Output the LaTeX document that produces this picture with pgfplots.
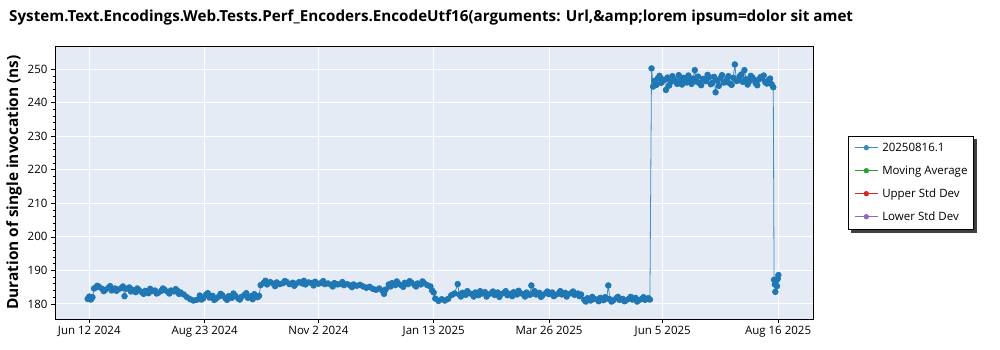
\documentclass[border=0pt]{standalone}
\usepackage{pgfplots}
\pgfplotsset{compat=1.18}
\usepackage{fontspec}
\setmainfont{Open Sans}
\usetikzlibrary{backgrounds}
\definecolor{mplblue}{RGB}{31,119,180}
\definecolor{mplgreen}{RGB}{44,160,44}
\definecolor{mplred}{RGB}{214,39,40}
\definecolor{mplpurple}{RGB}{148,103,189}
\definecolor{bgcol}{RGB}{229,235,245}
\begin{document}
\begin{tikzpicture}
\useasboundingbox (0,0) rectangle (1000pt,350pt);
\begin{axis}[
  at={(55pt,31pt)}, anchor=south west,
  width=758.3pt, height=273pt, scale only axis,
  xmin=-21.4, xmax=452, ymin=175.5, ymax=256.9,
  axis background/.style={fill=bgcol},
  axis line style={black, line width=0.8pt},
  grid=major, major grid style={white, line width=1pt},
  xtick={0,72,143,215,287,358,430},
  xticklabels={Jun 12 2024,Aug 23 2024,Nov 2 2024,Jan 13 2025,Mar 26 2025,Jun 5 2025,Aug 16 2025},
  ytick={180,190,...,250},
  minor y tick num=4,
  tick align=outside,
  major tick length=4pt, minor tick length=2.5pt,
  tick style={black, line width=0.6pt},
  xtick pos=bottom, ytick pos=left,
  /pgf/number format/assume math mode=true,
  tick label style={font=\fontsize{11.5}{13}\selectfont},
  ylabel={\textbf{Duration of single invocation (ns)}},
  ylabel style={font=\fontsize{15.4}{17}\selectfont, at={(axis description cs:-0.054,0.5)}, anchor=center},
  legend style={name=leg, at={(1.0458,0.670)}, anchor=north west, draw=black, line width=0.8pt, fill=white,
    font=\fontsize{11.5}{13}\selectfont, inner xsep=6pt, inner ysep=6pt, row sep=11pt,
    nodes={inner sep=0pt, text height=9pt, text depth=3pt, anchor=base west},
    column sep=4pt},
  legend cell align=left,
  legend image code/.code={\path[draw=none,fill=none] (0pt,0pt) -- (23pt,0pt);
    \draw[line width=0.8pt, mark=none] (0pt,3.8pt) -- (23pt,3.8pt);
    \fill[draw=none] (11.5pt,3.8pt) circle (2.7pt);},
]
\addplot[color=mplblue!85, line width=0.8pt, mark=*, mark size=2.8pt, mark options={fill=mplblue, draw=mplblue, solid}] table[row sep=\\] {
x y\\
-1 181.5\\ 0 182.2\\ 1 181.3\\ 2 182.0\\ 3 184.6\\
4 184.9\\ 5 185.4\\ 6 185.1\\ 8 184.5\\ 9 183.8\\ 10 184.2\\ 12 184.8\\ 13 185.3\\ 14 184.0\\ 16 184.6\\ 17 183.9\\ 18 184.3\\ 20 184.7\\ 21 185.2\\ 22 182.3\\ 23 184.5\\ 25 184.9\\ 26 183.7\\ 27 184.2\\
29 183.5\\ 30 184.6\\ 31 184.1\\ 33 183.4\\ 34 183.0\\ 35 183.9\\ 37 183.2\\ 38 184.5\\ 39 183.8\\ 41 184.0\\ 42 183.1\\ 43 183.3\\ 45 183.9\\ 46 184.6\\ 47 184.2\\ 49 183.6\\ 50 183.1\\ 51 184.0\\ 53 183.7\\ 54 184.4\\ 55 183.9\\ 56 183.0\\ 57 183.4\\
59 182.8\\ 61 182.0\\ 63 181.4\\ 65 181.0\\ 67 181.2\\
69 182.5\\ 70 181.3\\ 71 181.6\\ 73 182.8\\ 74 183.2\\ 75 181.9\\ 77 182.4\\ 78 181.2\\ 79 181.5\\ 81 182.2\\ 82 183.0\\ 83 182.6\\ 85 181.7\\ 86 181.2\\ 87 182.3\\ 89 181.8\\ 90 183.1\\ 91 182.5\\ 93 181.6\\ 94 181.3\\ 95 182.1\\ 97 182.7\\ 98 183.2\\ 99 181.8\\ 101 182.3\\ 102 181.4\\ 103 182.9\\ 105 182.0\\ 106 182.4\\
107 185.6\\ 109 186.3\\ 110 186.9\\ 111 185.8\\ 113 186.5\\ 115 186.0\\ 116 185.3\\ 117 186.4\\ 119 185.9\\ 121 186.2\\ 122 186.8\\ 123 186.6\\ 125 185.9\\ 127 186.3\\ 128 185.4\\ 129 186.0\\ 131 186.5\\ 133 186.1\\ 134 186.9\\ 135 185.8\\ 137 186.4\\ 139 186.2\\ 140 185.5\\ 141 186.6\\ 143 186.0\\ 145 186.3\\ 146 186.8\\ 147 185.9\\ 149 186.1\\ 151 185.7\\ 152 185.2\\ 153 186.2\\ 155 185.8\\ 157 186.0\\ 158 186.5\\ 159 185.6\\ 161 185.9\\ 163 185.5\\ 164 185.0\\ 165 185.8\\ 167 185.4\\ 169 185.7\\ 171 185.2\\
173 184.8\\ 175 185.1\\ 177 184.5\\ 179 184.2\\ 181 184.6\\ 183 183.9\\ 184 183.0\\ 185 184.3\\
187 185.8\\ 188 185.2\\ 189 186.2\\ 191 185.6\\ 192 186.7\\ 193 186.0\\ 195 185.5\\ 196 185.1\\ 197 186.3\\ 199 185.9\\ 200 186.8\\ 201 186.4\\ 203 185.7\\ 204 185.2\\ 205 186.1\\ 207 185.8\\ 208 186.7\\ 209 186.2\\ 211 185.6\\ 213 185.2\\ 214 184.0\\ 215 183.4\\
216 181.6\\ 218 180.9\\ 220 181.4\\ 222 181.0\\ 224 181.5\\
226 182.6\\ 228 183.1\\ 230 185.9\\ 231 182.8\\ 232 182.2\\ 233 183.3\\ 235 182.7\\ 236 183.8\\ 237 183.2\\ 239 182.9\\ 240 182.2\\ 241 183.4\\ 243 182.6\\ 244 183.8\\ 245 183.1\\ 247 183.5\\ 248 182.2\\ 249 182.8\\ 251 183.2\\ 252 183.7\\ 253 182.7\\ 255 183.4\\ 256 182.1\\ 257 182.9\\ 259 183.3\\ 260 183.8\\ 261 182.6\\ 263 183.0\\ 264 182.3\\ 265 183.5\\ 267 182.8\\ 268 183.9\\ 269 183.2\\ 271 182.9\\ 272 182.2\\ 273 183.4\\ 275 182.7\\ 276 185.5\\ 277 183.1\\ 278 183.8\\ 279 182.8\\ 281 183.3\\ 282 182.1\\ 283 182.6\\ 285 183.2\\ 286 183.7\\ 287 182.9\\ 289 183.4\\ 290 182.3\\ 291 182.7\\ 293 183.1\\ 294 183.8\\ 295 182.8\\ 297 183.3\\ 298 182.2\\ 299 182.9\\ 301 183.2\\ 302 183.7\\ 303 182.7\\ 305 183.1\\ 306 182.3\\ 307 182.8\\
309 181.2\\ 310 180.7\\ 311 181.7\\ 313 181.0\\ 314 182.1\\ 315 181.5\\ 317 181.3\\ 318 180.8\\ 319 181.8\\ 321 181.1\\ 322 182.0\\ 323 181.6\\ 324 185.5\\ 325 181.4\\ 326 180.7\\ 327 181.0\\ 329 181.7\\ 330 182.1\\ 331 181.2\\ 333 181.5\\ 334 180.8\\ 335 181.0\\ 337 181.6\\ 338 182.1\\ 339 181.3\\ 341 181.8\\ 342 180.7\\ 343 181.1\\ 345 181.5\\ 346 182.0\\ 347 181.2\\ 349 181.7\\ 350 181.3\\
351 250.2\\ 352 244.8\\ 353 246.5\\ 354 245.3\\ 355 247.3\\ 356 248.0\\ 357 245.9\\ 358 246.9\\ 359 246.8\\ 360 243.8\\ 361 247.5\\ 362 245.1\\ 363 246.2\\ 364 247.9\\ 365 247.0\\ 366 246.3\\ 367 245.6\\ 368 248.2\\ 369 246.9\\ 370 245.4\\ 371 247.4\\ 372 246.8\\ 373 246.0\\ 374 248.1\\ 375 246.7\\ 376 245.6\\ 377 247.2\\ 378 249.7\\ 379 246.3\\ 380 247.8\\ 381 245.8\\ 382 245.2\\ 383 247.1\\ 384 246.9\\ 385 246.4\\ 386 248.3\\ 387 247.6\\ 388 245.5\\ 389 245.9\\ 390 247.7\\ 391 243.1\\ 392 246.6\\ 393 245.0\\ 394 247.3\\ 395 248.2\\ 396 246.0\\ 397 246.1\\ 398 246.8\\ 399 247.9\\ 400 245.7\\ 401 245.3\\ 402 247.4\\ 403 251.4\\ 404 246.5\\ 405 246.6\\ 406 247.8\\ 407 248.4\\ 408 246.2\\ 409 249.7\\ 410 247.0\\ 411 245.4\\ 412 246.4\\ 413 248.0\\ 414 247.5\\ 415 246.8\\ 416 245.8\\ 417 245.2\\ 418 246.9\\ 419 247.6\\ 420 247.3\\ 421 248.1\\ 422 246.1\\ 423 245.7\\ 424 246.7\\ 425 247.2\\ 426 245.5\\ 427 244.6\\
427.5 187.2\\ 428 185.8\\ 428.3 183.6\\ 428.8 186.8\\ 429.3 185.3\\ 429.8 187.5\\ 430.2 188.6\\
};
\addlegendentry{20250816.1}
\addlegendimage{color=mplgreen, line width=0.8pt}
\addlegendentry{Moving Average}
\addlegendimage{color=mplred, line width=0.8pt}
\addlegendentry{Upper Std Dev}
\addlegendimage{color=mplpurple, line width=0.8pt}
\addlegendentry{Lower Std Dev}
\end{axis}
\begin{scope}[on background layer]
\fill[black!75] ([xshift=3pt,yshift=-3pt]leg.south west) rectangle ([xshift=3pt,yshift=-3pt]leg.north east);
\end{scope}
\node[anchor=west, inner sep=0pt, font=\fontsize{15.2}{18}\selectfont\bfseries] at (9pt,332pt) {System.Text.Encodings.Web.Tests.Perf\_Encoders.EncodeUtf16(arguments: Url,\&amp;lorem ipsum=dolor sit amet};
\end{tikzpicture}
\end{document}
